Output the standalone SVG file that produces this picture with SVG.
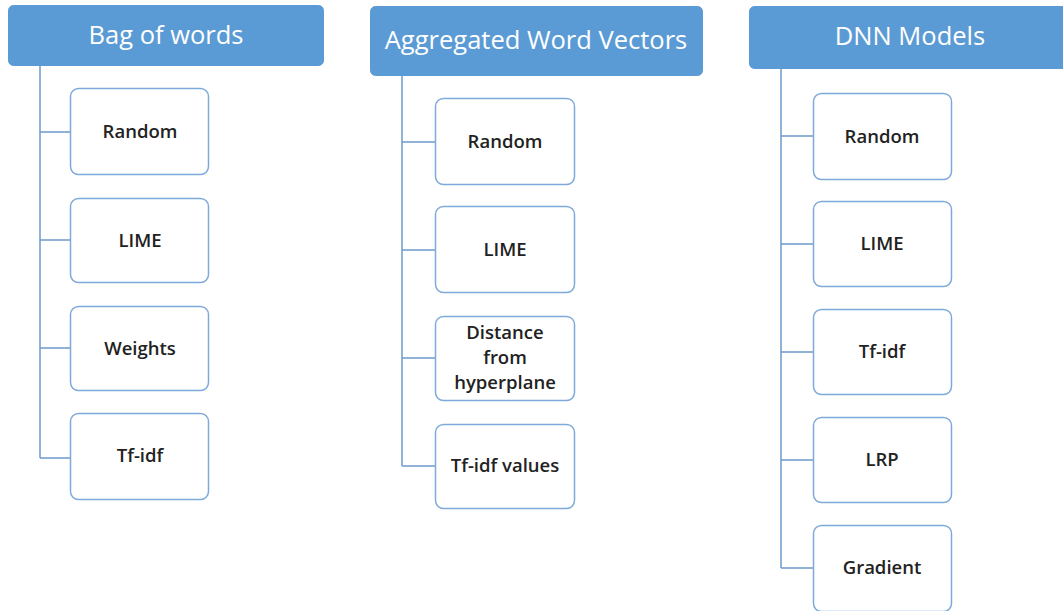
<svg xmlns="http://www.w3.org/2000/svg" width="1063" height="611" viewBox="0 0 1063 611">
<style>
.hdr{fill:#5b9bd5;stroke:#5b9bd5;stroke-width:1}
.htx{font-family:"Open Sans","Noto Sans",sans-serif;font-size:25.5px;fill:#ffffff;text-anchor:middle}
.box{fill:#ffffff;stroke:#7eaadb;stroke-width:1.5}
.btx{font-family:"Open Sans","Noto Sans",sans-serif;font-size:18.5px;font-weight:600;fill:#222222;text-anchor:middle}
.con{fill:none;stroke:#6f9bcc;stroke-width:1.5}
</style>
<rect width="1063" height="611" fill="#ffffff"/>
<g id="connectors">
<path class="con" d="M40,66 V458 M40,132 H70 M40,240 H70 M40,348 H70 M40,458 H70"/>
<path class="con" d="M402,76 V466 M402,142 H435 M402,250 H435 M402,358 H435 M402,466 H435"/>
<path class="con" d="M781,69 V568 M781,136 H813 M781,244 H813 M781,352 H813 M781,460 H813 M781,568 H813"/>
</g>
<g id="h1"><rect class="hdr" x="8.5" y="5.5" width="315" height="60" rx="5"/><text class="htx" x="166" y="44">Bag of words</text></g>
<g id="h2"><rect class="hdr" x="370.5" y="6.5" width="332" height="69" rx="5"/><text class="htx" x="536" y="49">Aggregated Word Vectors</text></g>
<g id="h3"><rect class="hdr" x="749.5" y="6.5" width="320" height="62" rx="5"/><text class="htx" x="910" y="45">DNN Models</text></g>
<g id="b1a"><rect class="box" x="70.5" y="88.5" width="138" height="86" rx="8"/><text class="btx" x="140" y="138">Random</text></g>
<g id="b1b"><rect class="box" x="70.5" y="198.5" width="138" height="84" rx="8"/><text class="btx" x="140" y="247">LIME</text></g>
<g id="b1c"><rect class="box" x="70.5" y="306.5" width="138" height="84" rx="8"/><text class="btx" x="140" y="355">Weights</text></g>
<g id="b1d"><rect class="box" x="70.5" y="413.5" width="138" height="86" rx="8"/><text class="btx" x="140" y="462">Tf-idf</text></g>
<g id="b2a"><rect class="box" x="435.5" y="98.5" width="139" height="86" rx="8"/><text class="btx" x="505" y="148">Random</text></g>
<g id="b2b"><rect class="box" x="435.5" y="206.5" width="139" height="86" rx="8"/><text class="btx" x="505" y="256">LIME</text></g>
<g id="b2c"><rect class="box" x="435.5" y="316.5" width="139" height="84" rx="8"/><text class="btx" x="505" y="339">Distance</text><text class="btx" x="505" y="364">from</text><text class="btx" x="505" y="389">hyperplane</text></g>
<g id="b2d"><rect class="box" x="435.5" y="424.5" width="139" height="84" rx="8"/><text class="btx" x="505" y="472">Tf-idf values</text></g>
<g id="b3a"><rect class="box" x="813.5" y="93.5" width="138" height="86" rx="8"/><text class="btx" x="882" y="143">Random</text></g>
<g id="b3b"><rect class="box" x="813.5" y="201.5" width="138" height="85" rx="8"/><text class="btx" x="882" y="250">LIME</text></g>
<g id="b3c"><rect class="box" x="813.5" y="309.5" width="138" height="85" rx="8"/><text class="btx" x="882" y="358">Tf-idf</text></g>
<g id="b3d"><rect class="box" x="813.5" y="417.5" width="138" height="85" rx="8"/><text class="btx" x="882" y="466">LRP</text></g>
<g id="b3e"><rect class="box" x="813.5" y="525.5" width="138" height="86" rx="8"/><text class="btx" x="882" y="574">Gradient</text></g>
</svg>
